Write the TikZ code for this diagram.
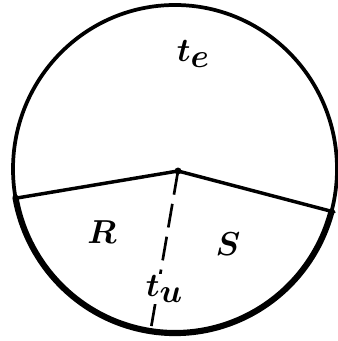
\documentclass[tikz,border=0pt]{standalone}
\usepackage{tikz}

\begin{document}
\begin{tikzpicture}[
  x=0.75pt, y=-0.75pt,
  rim/.style={line width=2.8pt, line cap=round},
  rimbold/.style={line width=4.6pt, line cap=round},
  radius line/.style={line width=2.6pt, line cap=round},
  split/.style={line width=2pt, dash pattern=on 18pt off 7pt},
  region/.style={font=\fontsize{31}{33}\selectfont\boldmath, inner sep=1pt}
]
\useasboundingbox (0,0) rectangle (337,341);

% circle and the heavier lower arc
\coordinate (c) at (175,169);
\draw[rim] (c) ellipse [x radius=162, y radius=164];
\draw[rimbold] ([shift={(15:162 and 164)}]c) arc [start angle=15, end angle=170, x radius=162, y radius=164];

% centre and boundary points
\coordinate (o) at (178,171);
\coordinate (l) at (17,198);
\coordinate (r) at (334,212);
\coordinate (b) at (150,334);

\draw[radius line] (l) -- (o) -- (r);
\draw[split] (o) -- (b);
\fill (o) circle [radius=2.6pt];

% labels
\node[region] (te) at (193,54) {$t$\raisebox{-5pt}{$e$}};
\node[region] (rr) at (102,232) {$R$};
\node[region] (ss) at (228,244) {$S$};
\node[region, fill=white] (tu) at (164,289) {$t$\raisebox{-5pt}{$u$}};
\end{tikzpicture}
\end{document}
